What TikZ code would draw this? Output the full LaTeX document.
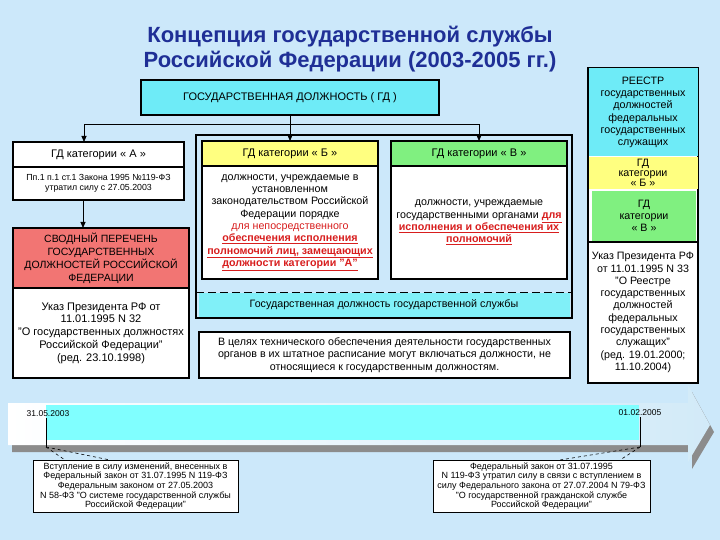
\documentclass[tikz,border=0pt]{standalone}
\usepackage{fontspec}
\setmainfont{Liberation Sans}
\usepackage{xcolor}
\usetikzlibrary{arrows.meta,positioning}
\definecolor{bgblue}{HTML}{CCE8FA}
\definecolor{titleblue}{HTML}{1F2F96}
\definecolor{gdcyan}{HTML}{6EEBF7}
\definecolor{stripcyan}{HTML}{80F0F8}
\definecolor{linecyan}{HTML}{80FFFF}
\definecolor{catyellow}{HTML}{FFFF80}
\definecolor{catgreen}{HTML}{80F080}
\definecolor{svodred}{HTML}{F27573}
\definecolor{redtext}{HTML}{D81E1E}
\definecolor{shadegrey}{HTML}{8C8C8C}
\definecolor{palebar}{HTML}{D2EAF8}
\newcommand{\redul}[1]{\textcolor{redtext}{\textbf{\underline{#1}}}}

\begin{document}
\begin{tikzpicture}[x=1pt,y=-1pt,
  font=\fontsize{10.7}{12.3}\selectfont,
  box/.style={draw=black,fill=white,line width=1.1pt,align=center,
              inner sep=2pt,outer sep=0pt},
  head/.style={box,minimum width=176pt,minimum height=25pt,font=\fontsize{11}{13}\selectfont},
  body/.style={box,minimum width=176pt,minimum height=113pt},
  note/.style={box,line width=0.8pt,minimum height=52pt,
               font=\fontsize{9}{9.7}\selectfont},
  ar/.style={-{Triangle[length=6pt,width=5pt]},line width=0.8pt},
  tail/.style={dashed,line width=0.6pt}
]
\fill[bgblue] (0,0) rectangle (720,540);
\useasboundingbox (0,0) rectangle (720,540);

\node[text=titleblue,align=center,font=\fontsize{22}{25}\selectfont\bfseries]
  (title) at (350,49) {Концепция государственной службы\\Российской Федерации (2003-2005 гг.)};

\node[box,fill=gdcyan,minimum width=298pt,minimum height=35pt,font=\fontsize{11}{13}\selectfont]
  (gd) at (290,97.5) {ГОСУДАРСТВЕННАЯ ДОЛЖНОСТЬ ( ГД )};

\node[box,minimum width=171pt,minimum height=25pt,font=\fontsize{11}{13}\selectfont]
  (catA) at (98.5,154.5) {ГД категории « А »};
\node[box,minimum width=171pt,minimum height=33pt,below=0pt of catA,
      font=\fontsize{8.8}{10.5}\selectfont] (lawA)
  {Пп.1 п.1 ст.1 Закона 1995 №119-ФЗ\\утратил силу с 27.05.2003};
\node[box,fill=svodred,minimum width=176pt,minimum height=60pt,
      font=\fontsize{10.5}{13}\selectfont] (svod) at (101,258)
  {СВОДНЫЙ ПЕРЕЧЕНЬ\\ГОСУДАРСТВЕННЫХ\\ДОЛЖНОСТЕЙ РОССИЙСКОЙ\\ФЕДЕРАЦИИ};
\node[box,minimum width=176pt,minimum height=90pt,below=0pt of svod,
      font=\fontsize{11}{12.7}\selectfont] (ukaz32)
  {Указ Президента РФ от\\11.01.1995 N 32\\"О государственных должностях\\Российской Федерации"\\(ред. 23.10.1998)};

\node[draw,line width=1.1pt,minimum width=376pt,minimum height=183pt,outer sep=0pt]
  (frameBV) at (384,226.5) {};
\node[head,fill=catyellow] (catB) at (290,153.5) {ГД категории « Б »};
\node[body,below=0pt of catB] (bodyB)
  {должности, учреждаемые в\\установленном\\законодательством Российской\\Федерации порядке\\
   \textcolor{redtext}{для непосредственного}\\\redul{обеспечения исполнения}\\
   \redul{полномочий лиц, замещающих}\\\redul{должности категории "А"}};
\node[head,fill=catgreen] (catV) at (479,153.5) {ГД категории « В »};
\node[body,below=0pt of catV] (bodyV)
  {должности, учреждаемые\\государственными органами \redul{для}\\
   \redul{исполнения и обеспечения их}\\\redul{полномочий}};
\node[fill=stripcyan,minimum width=371pt,minimum height=24pt,inner sep=0pt] (gds) at (384,304.5)
  {Государственная должность государственной службы};
\draw[line width=1pt,dash pattern=on 8pt off 4pt]
  (frameBV.west |- gds.north) -- (frameBV.east |- gds.north);
\node[box,minimum width=371pt,minimum height=46pt] (tech) at (384.5,355)
  {В целях технического обеспечения деятельности государственных\\
   органов в их штатное расписание могут включаться должности, не\\
   относящиеся к государственным должностям.};

\node[draw,fill=white,line width=1.1pt,minimum width=110pt,minimum height=315pt,outer sep=0pt]
  (regframe) at (643,225.5) {};
\node[fill=gdcyan,minimum width=109pt,minimum height=88pt,align=center] (reestr) at (643,112.5)
  {РЕЕСТР\\государственных\\должностей\\федеральных\\государственных\\служащих};
\node[fill=catyellow,minimum width=109pt,minimum height=32pt,inner sep=0pt,align=center,
      font=\fontsize{10.7}{9.8}\selectfont] (regB) at (643,173) {ГД\\категории\\« Б »};
\node[fill=catgreen,minimum width=104pt,minimum height=50pt,align=center] (regV) at (644,216)
  {ГД\\категории\\« В »};
\node[box,minimum width=110pt,minimum height=141pt] (ukaz33) at (643,312.5)
  {Указ Президента РФ\\от 11.01.1995 N 33\\"О Реестре\\государственных\\должностей\\федеральных\\
   государственных\\служащих"\\(ред. 19.01.2000;\\11.10.2004)};

\coordinate (fork) at (290,124);
\draw[ar] (gd.south) -- (fork) -| ([xshift=-14.5pt]catA.north);
\draw[ar] (fork) -- (catB.north);
\draw[ar] (fork) -| (catV.north);
\draw[ar] ([xshift=-15.5pt]lawA.south) -- ([xshift=-15.5pt]lawA.south |- svod.north);

\fill[shadegrey] (12,410) -- (692,410) -- (692,392) -- (714,432) -- (692,469)
  -- (692,452) -- (12,452) -- cycle;
\shade[left color=white,right color=palebar] (8,403) -- (688,403) -- (688,385) -- (710,425)
  -- (688,462) -- (688,445) -- (8,445) -- cycle;
\fill[linecyan] (46,405) rectangle (639,440);
\node[font=\fontsize{8.5}{10}\selectfont,inner sep=1pt] (d1) at (48,414) {31.05.2003};
\node[font=\fontsize{8.5}{10}\selectfont,inner sep=1pt] (d2) at (640,413) {01.02.2005};
\coordinate (tickL) at (46,447);
\coordinate (tickR) at (640,447);
\draw[line width=0.6pt] (d1.south -| tickL) -- (tickL);
\draw[line width=0.6pt] (d2.south -| tickR) -- (tickR);

\node[note,minimum width=205pt] (noteL) at (135.5,486)
  {Вступление в силу изменений, внесенных в\\Федеральный закон от 31.07.1995 N 119-ФЗ\\
   Федеральным законом от 27.05.2003\\N 58-ФЗ "О системе государственной службы\\
   Российской Федерации"};
\node[note,minimum width=217pt] (noteR) at (541.5,486)
  {Федеральный закон от 31.07.1995\\N 119-ФЗ утратил силу в связи с вступлением в\\
   силу Федерального закона от 27.07.2004 N 79-ФЗ\\"О государственной гражданской службе\\
   Российской Федерации"};
\draw[tail] (tickL) -- ([xshift=32pt]noteL.north west);
\draw[tail] (tickL) -- ([xshift=77pt]noteL.north west);
\draw[tail] (tickR) -- ([xshift=127pt]noteR.north west);
\draw[tail] (tickR) -- ([xshift=187pt]noteR.north west);
\end{tikzpicture}
\end{document}
